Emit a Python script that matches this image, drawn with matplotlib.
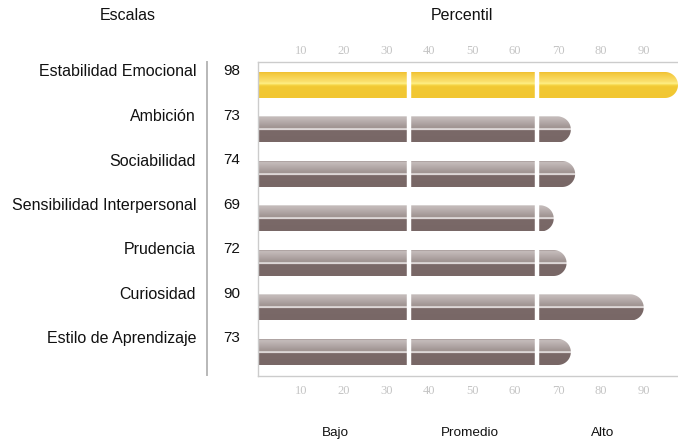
import numpy as np
import matplotlib
matplotlib.use("Agg")
import matplotlib.pyplot as plt
from matplotlib.path import Path
from matplotlib.patches import PathPatch
from matplotlib.colors import to_rgb

categories = ["Estabilidad Emocional", "Ambición", "Sociabilidad",
              "Sensibilidad Interpersonal", "Prudencia", "Curiosidad",
              "Estilo de Aprendizaje"]
values = [98, 73, 74, 69, 72, 90, 73]
highlight = [True, False, False, False, False, False, False]
band_edges = [35, 65]
band_labels = ["Bajo", "Promedio", "Alto"]
band_label_x = [18, 49.5, 80.5]
ticks = [10, 20, 30, 40, 50, 60, 70, 80, 90]

W, H = 678, 441
fig = plt.figure(figsize=(W / 100, H / 100), dpi=100)
plt.rcParams['font.family'] = ['Liberation Sans', 'DejaVu Sans']

ax_l, ax_r, ax_t, ax_b = 258, 678, 62, 376
ax = fig.add_axes([ax_l / W, 1 - ax_b / H, (ax_r - ax_l) / W, (ax_b - ax_t) / H])
row0, rowstep = 85, 44.5
ax.set_xlim(0, 98)
ax.set_ylim((ax_b - row0) / rowstep, -(row0 - ax_t) / rowstep)
px_per_x = (ax_r - ax_l) / 98.0
px_per_y = rowstep

bar_h_px = 26
hh = bar_h_px / 2 / px_per_y
rx = (bar_h_px / 2) / px_per_x


def grad_image(top_stops, n=200):
    img = np.zeros((n, 1, 3))
    pos = np.array([p for p, _ in top_stops])
    cols = np.array([to_rgb(c) for _, c in top_stops])
    t = np.linspace(0, 1, n)
    for k in range(3):
        img[:, 0, k] = np.interp(t, pos, cols[:, k])
    return img


gray_stops = [(0, "#9c908e"), (0.04, "#c6bdbc"), (0.47, "#9d918f"),
              (0.48, "#f4f0f0"), (0.53, "#f4f0f0"), (0.54, "#7a6968"), (1, "#786766")]
yellow_stops = [(0, "#efbd2e"), (0.05, "#f4c83c"), (0.38, "#fbe272"),
                (0.44, "#fff289"), (0.5, "#f6d648"), (0.56, "#f2c934"), (1, "#f1c632")]

for i, (v, hl) in enumerate(zip(values, highlight)):
    yc = i
    y0, y1 = yc - hh, yc + hh
    xe = v - rx
    th = np.linspace(np.pi / 2, -np.pi / 2, 40)
    verts = [(0, y0), (xe, y0)]
    verts += [(xe + rx * np.cos(a), yc - hh * np.sin(a)) for a in th]
    verts += [(0, y1), (0, y0)]
    codes = [Path.MOVETO] + [Path.LINETO] * (len(verts) - 2) + [Path.CLOSEPOLY]
    path = Path(verts, codes)
    patch = PathPatch(path, facecolor="none", edgecolor="none", transform=ax.transData)
    ax.add_patch(patch)
    img = grad_image(yellow_stops if hl else gray_stops)
    im = ax.imshow(img, extent=[0, v, y1, y0], aspect="auto", origin="upper",
                   interpolation="bilinear", zorder=2)
    im.set_clip_path(patch)
    for e in band_edges:
        if e < v:
            ax.plot([e + 0.2, e + 0.2], [y0 - 0.02, y1 + 0.02], color="white", lw=3.2,
                    solid_capstyle="butt", zorder=3)
    fig.text(232 / W, 1 - (row0 + rowstep * i - 14) / H, str(v), ha="center",
             va="center", fontsize=11, color="#111111")
    fig.text(196 / W, 1 - (row0 + rowstep * i - 13) / H, categories[i], ha="right",
             va="center", fontsize=11.5, color="#111111")

ax.set_xticks(ticks)
ax.set_yticks([])
ax.tick_params(axis="x", which="both", length=0, top=False, bottom=False,
               labeltop=False, labelbottom=False)
for t in ticks:
    xp = (ax_l + t * px_per_x) / W
    for yp in (51, 391):
        fig.text(xp, 1 - yp / H, str(t), ha="center", va="center", fontsize=9,
                 color="#c4c4c4", family=["Liberation Serif", "DejaVu Serif"])

for s in ["left", "top", "bottom"]:
    ax.spines[s].set_color("#cccccc")
    ax.spines[s].set_linewidth(1.0)
ax.spines["right"].set_visible(False)
ax.set_facecolor("none")

fig.add_artist(plt.Line2D([207 / W, 207 / W], [1 - 62 / H, 1 - 375 / H],
                          color="#b8b8b8", lw=1.4, transform=fig.transFigure))

fig.text(128 / W, 1 - 15 / H, "Escalas", ha="center", va="center", fontsize=11.5,
         color="#111111")
fig.text(462 / W, 1 - 15 / H, "Percentil", ha="center", va="center", fontsize=11.5,
         color="#111111")
for lab, bx in zip(band_labels, band_label_x):
    fig.text((ax_l + bx * px_per_x) / W, 1 - 433 / H, lab, ha="center", va="center",
             fontsize=9.7, color="#111111")

fig.savefig("out.png", dpi=100)
